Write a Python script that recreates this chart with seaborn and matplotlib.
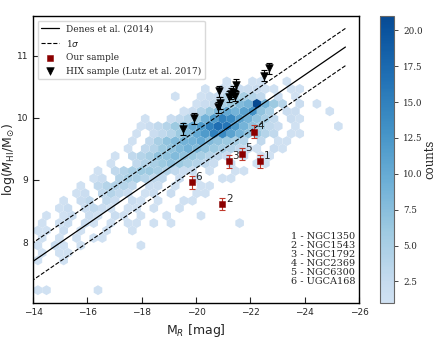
import numpy as np
import pandas as pd
import matplotlib
matplotlib.use("Agg")
import matplotlib.pyplot as plt
import seaborn as sns
from matplotlib.colors import LinearSegmentedColormap

# Denes et al. (2014) relation: log M_HI = a + b * M_R  (+/- 1 sigma)
denes_a = 3.49
denes_b = -0.30
denes_sigma = 0.30
denes_mr = [-14.0, -25.5]

# our sample
our_names = ["NGC1350", "NGC1543", "NGC1792", "NGC2369", "NGC6300", "UGCA168"]
our_mr = [-22.37, -20.97, -21.20, -22.12, -21.70, -19.86]
our_mhi = [9.30, 8.61, 9.30, 9.78, 9.42, 8.96]
our_err = [0.10, 0.10, 0.10, 0.10, 0.10, 0.10]

# HIX sample (Lutz et al. 2017)
hix_mr = [-19.52, -19.94, -20.80, -20.88, -20.86, -21.23, -21.30, -21.37, -21.42, -21.46, -22.49, -22.70]
hix_mhi = [9.82, 9.99, 10.17, 10.24, 10.43, 10.34, 10.39, 10.42, 10.36, 10.53, 10.68, 10.80]
hix_err = [0.09, 0.09, 0.09, 0.09, 0.09, 0.09, 0.09, 0.09, 0.09, 0.09, 0.09, 0.09]

# background galaxies, already binned: hex lattice + counts per row
# (row, first column, counts; '.' = empty, 1-9 then a=10 ... l=21)
hex_x0, hex_dx = -14.18, 0.316
hex_y0, hex_dy = 7.226, 0.12
hex_rows = [
    (0, 0, "11.....1"),
    (4, 0, "1..1"),
    (5, 0, "1.11"),
    (6, 0, "1.21.1......1"),
    (7, 0, "1.1.1.11"),
    (8, 0, "11.2.1..1..1"),
    (9, 0, "1.12.21.1.11.1.1.......1"),
    (10, 1, "1.12.21.21.1..1...1"),
    (11, 2, "12.2321.11.1..1."),
    (12, 3, "1.23.32.21.1..11"),
    (13, 4, "12.3432.12.2..11"),
    (14, 5, "1.34443.22.1..11"),
    (15, 6, "12.455433.2.1..11"),
    (16, 7, "1.3456654322.1..11"),
    (17, 8, "1..3456765432.2..11"),
    (18, 9, "1.345778765432.2.11"),
    (19, 10, "1.34678987654321.21"),
    (20, 11, "1.357899a87654.3.11"),
    (21, 11, "1.23468acfeb97643.11"),
    (22, 12, "123468acfhgc97532.1....1"),
    (23, 12, "1..23469cfeb9753.21.."),
    (24, 17, "12468a9bd75.22...1"),
    (25, 18, "1235689l964.2.1"),
    (26, 16, "1..12245543.2.1."),
    (27, 19, "1.2122211.11"),
    (28, 22, "1..11..1"),
]

hx, hy, hc = [], [], []
for r, c0, s in hex_rows:
    for k, ch in enumerate(s):
        if ch == ".":
            continue
        c = c0 + k
        hx.append(hex_x0 - hex_dx * (c + 0.5 * (r % 2)))
        hy.append(hex_y0 + hex_dy * r)
        hc.append(int(ch, 36))

sns.set_style("ticks")
plt.rcParams["font.family"] = ["DejaVu Sans"]
serif = "DejaVu Serif"

fig = plt.figure(figsize=(4.36, 3.38), dpi=100)
ax = fig.add_axes([0.0757, 0.1036, 0.7477, 0.8491])
cax = fig.add_axes([0.8716, 0.1036, 0.0321, 0.8491])

cmap = LinearSegmentedColormap.from_list("blues_cut", plt.cm.Blues(np.linspace(0.2, 0.9, 256)))
hb = ax.hexbin(hx, hy, C=hc, reduce_C_function=np.sum, gridsize=(41, 22),
               extent=(hex_x0 - 40 * hex_dx, hex_x0 + hex_dx, hex_y0 - 4 * hex_dy, hex_y0 + 40 * hex_dy),
               cmap=cmap, vmin=1, vmax=21, linewidths=0, zorder=1)

mr = np.array(denes_mr)
lines = pd.DataFrame({"mr": mr, "fit": denes_a + denes_b * mr,
                      "up": denes_a + denes_b * mr + denes_sigma,
                      "lo": denes_a + denes_b * mr - denes_sigma})
sns.lineplot(data=lines, x="mr", y="fit", color="k", lw=0.9, label="Denes et al. (2014)", ax=ax, zorder=3)
sns.lineplot(data=lines, x="mr", y="up", color="k", lw=0.8, linestyle="--", label=r"1$\sigma$", ax=ax, zorder=3)
sns.lineplot(data=lines, x="mr", y="lo", color="k", lw=0.8, linestyle="--", ax=ax, zorder=3)

ax.errorbar(our_mr, our_mhi, yerr=our_err, fmt="none", ecolor="#c0392b", elinewidth=0.8, capsize=2.5, capthick=0.8, zorder=4)
sns.scatterplot(x=our_mr, y=our_mhi, marker="s", color="darkred", edgecolor="darkred", s=22,
                label="Our sample", ax=ax, zorder=5)
ax.errorbar(hix_mr, hix_mhi, yerr=hix_err, fmt="none", ecolor="k", elinewidth=0.8, capsize=2.5, capthick=0.8, zorder=4)
sns.scatterplot(x=hix_mr, y=hix_mhi, marker="v", color="k", edgecolor="k", s=30,
                label="HIX sample (Lutz et al. 2017)", ax=ax, zorder=5)

for i, (x, y) in enumerate(zip(our_mr, our_mhi)):
    ax.annotate(str(i + 1), (x, y), xytext=(2.5, 4), textcoords="offset points", fontsize=7.5, va="center")

names = "\n".join(f"{i + 1} - {n}" for i, n in enumerate(our_names))
ax.text(0.79, 0.06, names, transform=ax.transAxes, ha="left", va="bottom",
        family=serif, fontsize=7, linespacing=1.0)

ax.set_xlim(-14, -26)
ax.set_ylim(7.02, 11.64)
ax.set_xticks(np.arange(-14, -27, -2))
ax.set_yticks([8, 9, 10, 11])
ax.tick_params(direction="in", length=4, width=0.8, labelsize=6.5)
for sp in ax.spines.values():
    sp.set_linewidth(1.0)
    sp.set_color("k")
ax.set_xlabel(r"M$_R$ [mag]", fontsize=9)
ax.set_ylabel(r"log($M_{\rm HI}$/M$_{\odot}$)", fontsize=9)
ax.yaxis.set_label_coords(-0.05, 0.5)

leg = ax.legend(loc="upper left", prop={"family": serif, "size": 6.5}, frameon=True, framealpha=1,
                edgecolor="0.85", fancybox=True)

cb = fig.colorbar(hb, cax=cax)
cb.set_label("counts", family=serif, fontsize=8.5)
cax.yaxis.set_label_coords(3.1, 0.5)
cb.outline.set_edgecolor("0.4")
cb.outline.set_linewidth(0.8)
cax.tick_params(labelsize=6.3, length=3, width=0.6)
for t in cax.get_yticklabels():
    t.set_family(serif)

fig.savefig("out.png", dpi=100)
